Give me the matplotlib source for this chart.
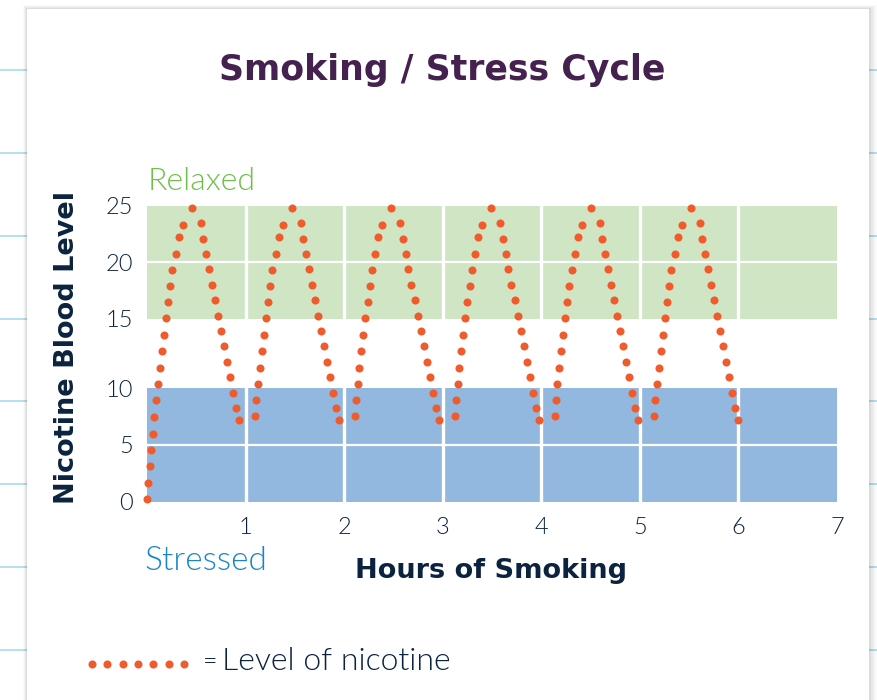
import numpy as np
import matplotlib
matplotlib.use("Agg")
import matplotlib.pyplot as plt
from matplotlib.patches import Rectangle
from matplotlib.lines import Line2D

# hours at which each cigarette peak occurs
peak_hours = [0.453, 1.468, 2.480, 3.493, 4.504, 5.516]

# one cycle around a peak: hours relative to the peak, nicotine level
cycle_offsets = [-0.369, -0.359, -0.342, -0.325, -0.304, -0.284, -0.264,
                 -0.243, -0.220, -0.197, -0.162, -0.132, -0.091, 0.0,
                 0.091, 0.115, 0.145, 0.172, 0.203, 0.236, 0.267, 0.297,
                 0.328, 0.358, 0.389, 0.419, 0.449, 0.480]
cycle_levels = [7.57, 8.98, 10.32, 11.49, 12.66, 13.85, 15.02, 16.46, 17.88,
                19.32, 20.74, 22.19, 23.31, 24.81, 23.46, 22.07, 20.71,
                19.36, 17.97, 16.62, 15.25, 14.11, 13.02, 11.90, 10.80,
                9.63, 8.25, 7.19]

# first cycle starts from zero
first_offsets = [-0.450, -0.440, -0.423, -0.412, -0.395, -0.379, -0.362]
first_levels = [0.2, 1.61, 3.12, 4.58, 6.0, 7.48, 8.96]

x_ticks = [1, 2, 3, 4, 5, 6, 7]
y_ticks = [0, 5, 10, 15, 20, 25]
stressed_band = (0, 10)
relaxed_band = (15, 25)

# build the series
hours, levels = [], []
for i, p in enumerate(peak_hours):
    if i == 0:
        hours += [p + o for o in first_offsets]
        levels += first_levels
        hours += [p + o for o in cycle_offsets[2:]]
        levels += cycle_levels[2:]
    else:
        hours += [p + o for o in cycle_offsets]
        levels += cycle_levels

# stretched gap between 10 and 15 on the y axis
GAP = 6.19


def fwd(y):
    y = np.asarray(y, dtype=float)
    return np.where(y < 10, y, np.where(y < 15, 10 + (y - 10) * GAP / 5, y + GAP - 5))


def inv(s):
    s = np.asarray(s, dtype=float)
    return np.where(s < 10, s, np.where(s < 10 + GAP, 10 + (s - 10) * 5 / GAP, s - GAP + 5))


NAVY = "#0c2340"
DOT = "#f15a2b"
LIGHT = "Lato"
BOLD = "DejaVu Sans"

fig = plt.figure(figsize=(8.77, 7.0), dpi=100)
W, H = 877, 700

# notebook lines behind the card
for ypx in [70, 153, 236, 319, 401, 484, 567, 650]:
    fig.add_artist(Line2D([0, 1], [1 - ypx / H] * 2, color="#a6dcf2", lw=1.2, zorder=0))

# card shadow + card
for k, a in enumerate([0.05, 0.04, 0.03, 0.02]):
    d = (k + 1) * 2
    fig.add_artist(Rectangle(((27 - d / 2) / W, 0), (842 + d * 1.5) / W, (691 + d / 2) / H,
                             facecolor="#000000", alpha=a, edgecolor="none", zorder=1))
fig.add_artist(Rectangle((27 / W, 0), 842 / W, 691 / H, facecolor="white",
                         edgecolor="none", zorder=2))

ax = fig.add_axes([147 / W, 198.5 / H, 690 / W, 296 / H])
ax.set_zorder(3)
ax.patch.set_alpha(0)
ax.set_yscale("function", functions=(fwd, inv))
ax.set_xlim(0, 7)
ax.set_ylim(0, 25)

ax.axhspan(*stressed_band, color="#93b8df", lw=0, zorder=1)
ax.axhspan(*relaxed_band, color="#cfe5c4", lw=0, zorder=1)
for x in x_ticks[:-1]:
    ax.axvline(x, color="white", lw=2.4, zorder=2)
for y in [5, 20]:
    ax.axhline(y, color="white", lw=1.6, zorder=2)

ax.plot(hours, levels, linestyle="none", marker="o", ms=5.8, color=DOT,
        markeredgewidth=0, zorder=4, clip_on=False)

for s in ax.spines.values():
    s.set_visible(False)
ax.set_xticks(x_ticks)
ax.set_yticks(y_ticks)
ax.set_xticklabels([str(t) for t in x_ticks], fontsize=17, color=NAVY,
                   family=LIGHT, fontweight=300)
ax.set_yticklabels([str(t) for t in y_ticks], fontsize=17, color=NAVY,
                   family=LIGHT, fontweight=300)
ax.tick_params(axis="x", length=0, pad=11)
ax.tick_params(axis="y", length=0, pad=10)
ax.minorticks_off()

fig.text(442.5 / W, 1 - 70 / H, "Smoking / Stress Cycle", ha="center", va="center",
         fontsize=25, fontweight="bold", color="#45214f", family=BOLD, zorder=5)
fig.text(67 / W, 1 - 347 / H, "Nicotine Blood Level", rotation=90, ha="center",
         va="center", fontsize=19.5, fontweight="bold", color=NAVY, family=BOLD, zorder=5)
fig.text(491 / W, 1 - 571 / H, "Hours of Smoking", ha="center", va="center",
         fontsize=19.5, fontweight="bold", color=NAVY, family=BOLD, zorder=5)
fig.text(148 / W, 1 - 181 / H, "Relaxed", ha="left", va="center", fontsize=23,
         fontweight=300, color="#6cc04a", family=LIGHT, zorder=5)
fig.text(144 / W, 1 - 561 / H, "Stressed", ha="left", va="center", fontsize=24,
         fontweight=300, color="#1a85c8", family=LIGHT, zorder=5)

# key
fig.add_artist(Line2D(np.linspace(92, 184, 7) / W, [1 - 664 / H] * 7, linestyle="none",
                      marker="o", ms=5.8, color=DOT, markeredgewidth=0, zorder=5))
fig.text(203 / W, 1 - 662 / H, "=", ha="left", va="center",
         fontsize=18, fontweight=300, color=NAVY, family=LIGHT, zorder=5)
fig.text(222 / W, 1 - 662 / H, "Level of nicotine", ha="left", va="center",
         fontsize=23, fontweight=300, color=NAVY, family=LIGHT, zorder=5)

fig.savefig("out.png", dpi=100)
